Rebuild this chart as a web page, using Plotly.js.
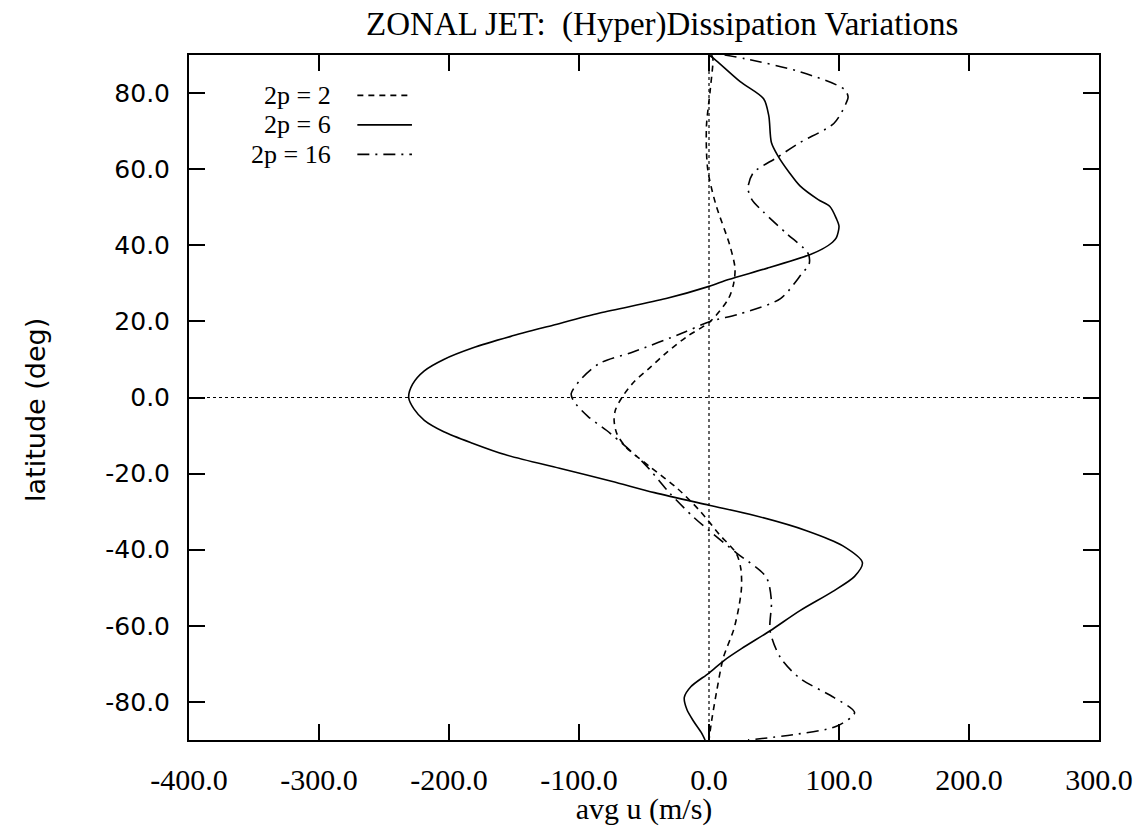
<!DOCTYPE html>
<html>
<head>
<meta charset="utf-8">
<script src="https://cdn.plot.ly/plotly-3.0.1.min.js"></script>
<style>html,body{margin:0;padding:0;background:#fff;}#chart{width:1139px;height:826px;}</style>
</head>
<body>
<div id="chart"></div>
<script>
// ---- data ----
var seriesNames = ["2p = 2", "2p = 6", "2p = 16"];

// 2p = 6 (solid)
var lat6 = [90, 89, 83, 78.5, 74, 67, 63.5, 59, 55.6, 52, 50.2, 47, 45, 42, 40.8, 39, 37.6, 34, 31, 29.2, 26, 22.2, 19, 16, 13, 10, 7, 3.5, 0, -3, -6, -9, -12, -15, -18.6, -22, -25, -28.3, -31, -35, -39, -43.4, -47, -51, -56, -61.3, -66, -69, -72.4, -76, -78.8, -82, -85, -88, -90];
var u6   = [0, 4, 24, 42, 46, 48, 53, 62, 70, 84, 93, 98, 100, 98, 95, 87, 78, 45, 15, 0, -33, -84, -120, -153, -182, -204, -219, -228, -231, -227, -219, -204, -182, -157, -115, -75, -42, 0, 35, 75, 103, 118, 112, 95, 70, 47, 25, 12, 0, -14, -19, -17, -12, -6, -3];

// 2p = 2 (dashed)
var lat2 = [90, 89, 81, 71, 60, 51, 40, 34, 30, 26, 20, 16, 12, 8, 4, 0, -3.3, -6, -9.4, -13, -18.3, -24, -29.8, -36, -41, -45, -50, -55, -61, -68.4, -77, -85, -90];
var u2   = [2, 3, 1, -2, -1, 5, 16, 20, 19, 15, 1, -17, -32, -45, -58, -67, -72, -73, -71, -64, -45, -24, -7, 8, 21, 24.5, 25, 23, 19, 11, 6, 2, 0];

// 2p = 16 (dash-dot)
var lat16 = [90, 89, 85.6, 81, 79, 77, 72, 67, 63, 59, 55, 52, 48.7, 43, 38, 35, 32.8, 26, 22, 20, 17, 12, 9, 5, 1, -1, -5, -9.4, -17.3, -25.2, -31.4, -35.8, -40.8, -47.2, -53.4, -61.3, -68.4, -73.8, -78.8, -82.8, -86.4, -88.6, -90];
var u16   = [12, 28, 70, 104, 107, 105, 96, 70, 52, 34, 30, 33, 42, 60, 76, 77, 72, 55, 24, 1, -20, -58, -84, -98, -106, -104, -93, -76, -50, -30, -12, 3, 21, 44, 48, 47, 55, 70, 96, 112, 98, 65, 30];

// axes
var xRange = [-400, 300];
var yRange = [-90, 90];
var xTicks = [-400, -300, -200, -100, 0, 100, 200, 300];
var yTicks = [-80, -60, -40, -20, 0, 20, 40, 60, 80];
var xTickText = xTicks.map(function(v){return v.toFixed(1);});
var yTickText = yTicks.map(function(v){return v.toFixed(1);});

// ---- styles ----
var serif = "Liberation Serif, Times New Roman, serif";
var sans = "DejaVu Sans, Verdana, sans-serif";
var styles = [
  {dash: "6px,5px", width: 1.6},
  {dash: "solid", width: 1.6},
  {dash: "12px,6px,2px,6px", width: 1.6}
];
var lats = [lat2, lat6, lat16];
var us = [u2, u6, u16];

var traces = [];
// reference dotted lines at u=0 and lat=0
traces.push({x: [0, 0], y: yRange, mode: "lines", line: {color: "#000", width: 1.2, dash: "dot"}, hoverinfo: "skip", showlegend: false});
traces.push({x: xRange, y: [0, 0], mode: "lines", line: {color: "#000", width: 1.2, dash: "dot"}, hoverinfo: "skip", showlegend: false});
for (var i = 0; i < 3; i++) {
  traces.push({
    x: us[i], y: lats[i], name: seriesNames[i], mode: "lines",
    line: {color: "#000", width: styles[i].width, dash: styles[i].dash, shape: "spline", smoothing: 0.8},
    showlegend: false
  });
}

// manual legend (text on the left, line sample on the right) in paper units
var annotations = [];
var shapes = [];
var rowY = [0.941, 0.898, 0.855];
for (var j = 0; j < 3; j++) {
  annotations.push({
    xref: "paper", yref: "paper", x: 0.158, y: rowY[j], xanchor: "right", yanchor: "middle",
    text: seriesNames[j], showarrow: false, font: {family: serif, size: 26, color: "#000"}
  });
  shapes.push({
    type: "line", xref: "paper", yref: "paper", x0: 0.185, x1: 0.245, y0: rowY[j], y1: rowY[j],
    line: {color: "#000", width: styles[j].width, dash: styles[j].dash}
  });
}
// y-axis title
annotations.push({
  xref: "paper", yref: "paper", x: -0.168, y: 0.482, xanchor: "center", yanchor: "middle",
  textangle: -90, text: "latitude (deg)", showarrow: false,
  font: {family: sans, size: 27, color: "#000"}
});

var axisCommon = {
  showgrid: false, zeroline: false, showline: true, linecolor: "#000", linewidth: 2,
  mirror: "ticks", ticks: "inside", ticklen: 16, tickwidth: 2, tickcolor: "#000"
};

var layout = {
  width: 1139, height: 826,
  margin: {l: 189, r: 40, t: 55, b: 86},
  paper_bgcolor: "#fff", plot_bgcolor: "#fff",
  showlegend: false,
  title: {text: "ZONAL JET:  (Hyper)Dissipation Variations", font: {family: serif, size: 33, color: "#000"},
          x: 0.52, xanchor: "center", xref: "paper", y: 0.972, yanchor: "middle", yref: "container"},
  xaxis: Object.assign({}, axisCommon, {
    range: xRange, tickvals: xTicks, ticktext: xTickText, ticklabelstandoff: 12,
    tickfont: {family: serif, size: 30, color: "#000"},
    title: {text: "avg u (m/s)", font: {family: serif, size: 30, color: "#000"}, standoff: 0}
  }),
  yaxis: Object.assign({}, axisCommon, {
    range: yRange, tickvals: yTicks, ticktext: yTickText, ticklabelstandoff: 12,
    tickfont: {family: sans, size: 25, color: "#000"}
  }),
  annotations: annotations,
  shapes: shapes
};

Plotly.newPlot("chart", traces, layout, {staticPlot: true, displayModeBar: false});
</script>
</body>
</html>
